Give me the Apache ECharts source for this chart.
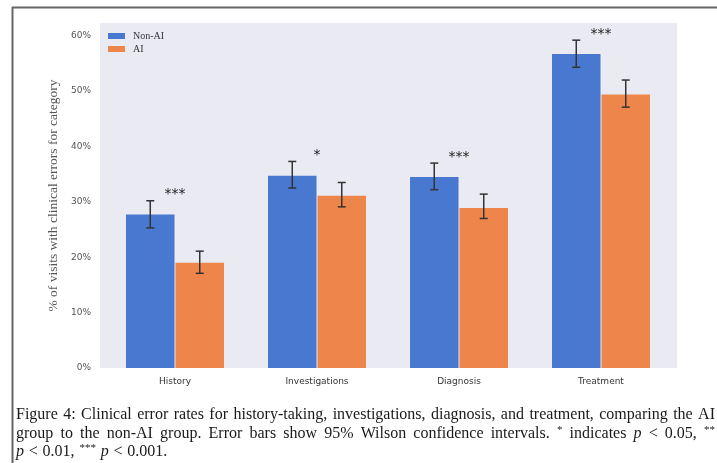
<!DOCTYPE html>
<html>
<head>
<meta charset="utf-8">
<script src="https://cdn.jsdelivr.net/npm/echarts@6/dist/echarts.min.js"></script>
<style>
  html, body { margin: 0; padding: 0; background: #ffffff; }
  #chart { width: 717px; height: 463px; }
</style>
</head>
<body>
<div id="chart"></div>
<script>
// Error rates (% of visits) per category, with 95% Wilson interval bounds
const categories = ['History', 'Investigations', 'Diagnosis', 'Treatment'];
const nonAiRate = [27.7, 34.7, 34.5, 56.7];
const nonAiLow  = [25.3, 32.5, 32.2, 54.3];
const nonAiHigh = [30.2, 37.3, 37.0, 59.2];
const aiRate    = [19.0, 31.1, 28.9, 49.4];
const aiLow     = [17.1, 29.1, 27.0, 47.1];
const aiHigh    = [21.1, 33.5, 31.4, 52.0];
const significance = ['***', '*', '***', '***'];
const yTicks = [0, 10, 20, 30, 40, 50, 60];
const seriesNames = ['Non-AI', 'AI'];
const yAxisTitle = '% of visits with clinical errors for category';
const captionLines = [
  'Figure 4: Clinical error rates for history-taking, investigations, diagnosis, and treatment, comparing the AI',
  'group to the non-AI group. Error bars show 95% Wilson confidence intervals. * indicates p < 0.05, **',
  'p < 0.01, *** p < 0.001.'
];

const BLUE = '#4878D0';
const ORANGE = '#EE854A';
const BAR_W = 48.5;
const BAR_GAP = 0.02;                       // fraction of bar width
const HALF_STEP = BAR_W * (1 + BAR_GAP) / 2; // offset from category centre to bar centre
const SERIF = '"Liberation Serif", "DejaVu Serif", serif';
const SANS = '"DejaVu Sans", sans-serif';

const chart = echarts.init(document.getElementById('chart'), null, { renderer: 'canvas' });

// Whisker drawer: vertical line plus caps, shifted to its bar inside the group
function errorBar(offset) {
  return function (params, api) {
    const idx = api.value(0);
    const lo = api.coord([idx, api.value(1)]);
    const hi = api.coord([idx, api.value(2)]);
    const x = lo[0] + offset;
    const cap = 4;
    const st = { stroke: '#333333', lineWidth: 1.5 };
    return {
      type: 'group',
      children: [
        { type: 'line', shape: { x1: x, y1: lo[1], x2: x, y2: hi[1] }, style: st },
        { type: 'line', shape: { x1: x - cap, y1: lo[1], x2: x + cap, y2: lo[1] }, style: st },
        { type: 'line', shape: { x1: x - cap, y1: hi[1], x2: x + cap, y2: hi[1] }, style: st }
      ]
    };
  };
}

// Caption, laid out word by word so the full lines are justified
const measureCtx = document.createElement('canvas').getContext('2d');
const CAP_SIZE = 16;
const SUP_SIZE = 11;
function tokenStyle(tok) {
  if (/^\*+$/.test(tok)) return { font: SUP_SIZE + 'px ' + SERIF, dy: -4 };
  if (tok === 'p') return { font: 'italic ' + CAP_SIZE + 'px ' + SERIF, dy: 0 };
  return { font: CAP_SIZE + 'px ' + SERIF, dy: 0 };
}
function captionGraphics() {
  const left = 16, right = 715;
  const ys = [415, 434, 452];
  const out = [];
  captionLines.forEach(function (line, li) {
    const words = line.split(' ');
    const widths = words.map(function (w) {
      measureCtx.font = tokenStyle(w).font;
      return measureCtx.measureText(w).width;
    });
    const total = widths.reduce(function (a, b) { return a + b; }, 0);
    measureCtx.font = CAP_SIZE + 'px ' + SERIF;
    const natural = measureCtx.measureText(' ').width * 1.2;
    const justify = li < captionLines.length - 1;
    const gap = justify ? (right - left - total) / (words.length - 1) : natural;
    let x = left;
    words.forEach(function (w, wi) {
      const s = tokenStyle(w);
      out.push({
        type: 'text',
        silent: true,
        style: {
          text: w, x: x, y: ys[li] + s.dy, font: s.font, fill: '#1a1a1a',
          align: 'left', verticalAlign: 'middle',
          textAlign: 'left', textVerticalAlign: 'middle'
        }
      });
      x += widths[wi] + gap;
    });
  });
  return out;
}

const option = {
  animation: false,
  backgroundColor: '#ffffff',
  grid: [
    // plot background panel
    { left: 100, right: 40, top: 23, bottom: 95, show: true, backgroundColor: '#EAEAF2', borderWidth: 0 },
    // data grid
    { left: 104, right: 45, top: 23, bottom: 95 }
  ],
  legend: {
    data: seriesNames,
    orient: 'vertical',
    left: 108,
    top: 31,
    padding: 0,
    itemWidth: 17,
    itemHeight: 6,
    itemGap: 3,
    icon: 'rect',
    textStyle: { fontFamily: SERIF, fontSize: 10, color: '#333333', padding: [0, 0, 0, 3] }
  },
  xAxis: [
    { gridIndex: 0, type: 'value', show: false, min: 0, max: 1 },
    {
      gridIndex: 1, type: 'category', data: categories,
      axisLine: { show: false }, axisTick: { show: false },
      axisLabel: { fontFamily: SANS, fontSize: 9, color: '#333333', margin: 9 }
    }
  ],
  yAxis: [
    { gridIndex: 0, type: 'value', show: false, min: 0, max: 1 },
    {
      gridIndex: 1, type: 'value', min: 0, max: 62.3, interval: 10,
      axisLine: { show: false }, axisTick: { show: false }, splitLine: { show: false },
      axisLabel: {
        fontFamily: SANS, fontSize: 9, color: '#555555', margin: 13,
        formatter: function (v) { return yTicks.indexOf(v) >= 0 ? v + '%' : ''; }
      },
      name: yAxisTitle,
      nameLocation: 'middle',
      nameRotate: 90,
      nameGap: 42,
      nameTextStyle: { fontFamily: SERIF, fontSize: 13.5, color: '#555555' }
    }
  ],
  series: [
    {
      name: seriesNames[0], type: 'bar', xAxisIndex: 1, yAxisIndex: 1,
      data: nonAiRate, barWidth: BAR_W, barGap: (BAR_GAP * 100) + '%',
      itemStyle: { color: BLUE }
    },
    {
      name: seriesNames[1], type: 'bar', xAxisIndex: 1, yAxisIndex: 1,
      data: aiRate, barWidth: BAR_W, barGap: (BAR_GAP * 100) + '%',
      itemStyle: { color: ORANGE }
    },
    {
      name: 'nonAiCI', type: 'custom', xAxisIndex: 1, yAxisIndex: 1, z: 5, silent: true,
      data: categories.map(function (c, i) { return [i, nonAiLow[i], nonAiHigh[i]]; }),
      encode: { x: 0, y: [1, 2] },
      renderItem: errorBar(-HALF_STEP)
    },
    {
      name: 'aiCI', type: 'custom', xAxisIndex: 1, yAxisIndex: 1, z: 5, silent: true,
      data: categories.map(function (c, i) { return [i, aiLow[i], aiHigh[i]]; }),
      encode: { x: 0, y: [1, 2] },
      renderItem: errorBar(HALF_STEP)
    },
    {
      name: 'significance', type: 'custom', xAxisIndex: 1, yAxisIndex: 1, z: 6, silent: true,
      data: categories.map(function (c, i) { return [i, Math.max(nonAiHigh[i], aiHigh[i])]; }),
      encode: { x: 0, y: 1 },
      renderItem: function (params, api) {
        const i = api.value(0);
        const p = api.coord([i, api.value(1)]);
        return {
          type: 'text',
          style: {
            text: significance[i], x: p[0], y: p[1] - 6,
            font: '14px ' + SANS, fill: '#222222',
            align: 'center', verticalAlign: 'middle',
            textAlign: 'center', textVerticalAlign: 'middle'
          }
        };
      }
    }
  ],
  graphic: [
    { type: 'line', silent: true, shape: { x1: 12, y1: 7.5, x2: 717, y2: 7.5 }, style: { stroke: '#666666', lineWidth: 2 } },
    { type: 'line', silent: true, shape: { x1: 12.5, y1: 7, x2: 12.5, y2: 463 }, style: { stroke: '#666666', lineWidth: 2 } }
  ].concat(captionGraphics())
};

chart.setOption(option);
</script>
</body>
</html>
